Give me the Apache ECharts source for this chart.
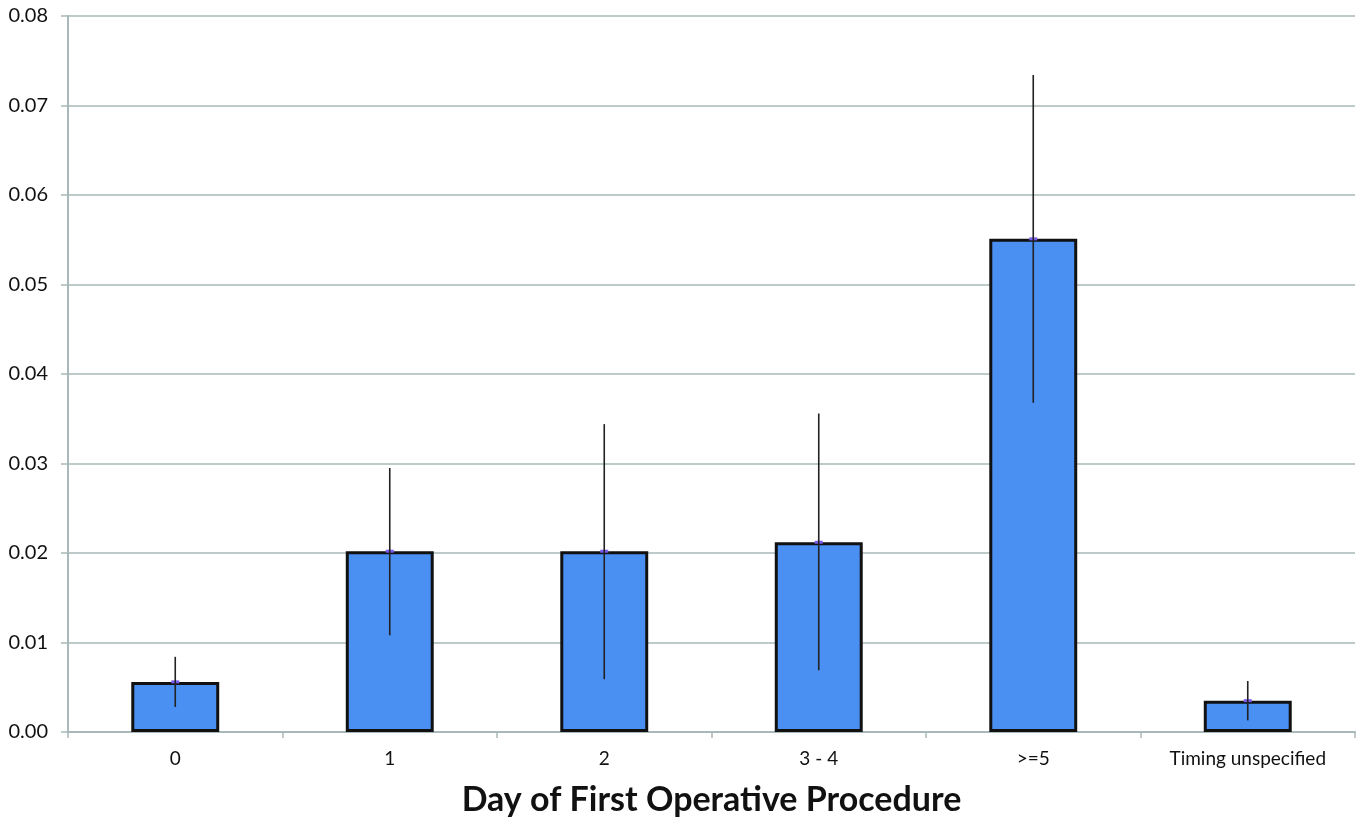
<!DOCTYPE html>
<html><head><meta charset="utf-8">
<script src="https://cdn.jsdelivr.net/npm/echarts@6/dist/echarts.min.js"></script>
<style>html,body{margin:0;padding:0;background:#fff}#c{width:1361px;height:821px}</style>
</head><body><div id="c"></div>
<script>
const categories = ['0', '1', '2', '3 - 4', '>=5', 'Timing unspecified'];
const values = [0.0056, 0.0202, 0.0202, 0.0212, 0.0551, 0.0035];
const errLow = [0.0028, 0.0108, 0.0059, 0.0069, 0.0368, 0.0013];
const errHigh = [0.0084, 0.0295, 0.0344, 0.0356, 0.0734, 0.0057];
const yTicks = [0, 0.01, 0.02, 0.03, 0.04, 0.05, 0.06, 0.07, 0.08];

const font = 'Lato, "Open Sans", sans-serif';
const chart = echarts.init(document.getElementById('c'));
chart.setOption({
  animation: false,
  grid: {left: 68, right: 6, top: 16, bottom: 89, outerBoundsMode: 'none', containLabel: false},
  xAxis: {
    type: 'category', data: categories,
    axisLine: {lineStyle: {color: '#a9b8b8', width: 2}},
    axisTick: {show: true, length: 6, lineStyle: {color: '#a9b8b8', width: 1.5}},
    axisLabel: {color: '#111', fontSize: 19, fontFamily: font, margin: 17},
    name: 'Day of First Operative Procedure', nameLocation: 'middle', nameGap: 51,
    nameTextStyle: {color: '#111', fontSize: 34, fontWeight: 'bold', fontFamily: font}
  },
  yAxis: {
    type: 'value', min: 0, max: 0.08, interval: 0.01,
    axisLine: {show: true, lineStyle: {color: '#a9b8b8', width: 2}},
    axisTick: {show: true, length: 7, lineStyle: {color: '#a9b8b8', width: 1.5}},
    splitLine: {lineStyle: {color: '#a9b8b8', width: 1.5}},
    axisLabel: {color: '#111', fontSize: 20, fontFamily: font, margin: 20,
      formatter: v => v.toFixed(2)}
  },
  series: [
    {
      type: 'bar', data: values, barWidth: '41%',
      itemStyle: {color: '#4a8ff2', borderColor: '#111', borderWidth: 3}
    },
    {
      type: 'custom', z: 10,
      data: categories.map((c, i) => [i, errLow[i], errHigh[i], values[i]]),
      renderItem: (params, api) => {
        const lo = api.coord([api.value(0), api.value(1)]);
        const hi = api.coord([api.value(0), api.value(2)]);
        const mid = api.coord([api.value(0), api.value(3)]);
        return {type: 'group', children: [
          {type: 'line', shape: {x1: mid[0] - 4, y1: mid[1], x2: mid[0] + 4, y2: mid[1]},
           style: {stroke: '#7b5cf0', lineWidth: 3}},
          {type: 'line', shape: {x1: lo[0], y1: lo[1], x2: hi[0], y2: hi[1]},
           style: {stroke: '#222', lineWidth: 1.6}}
        ]};
      }
    }
  ]
});
</script></body></html>
